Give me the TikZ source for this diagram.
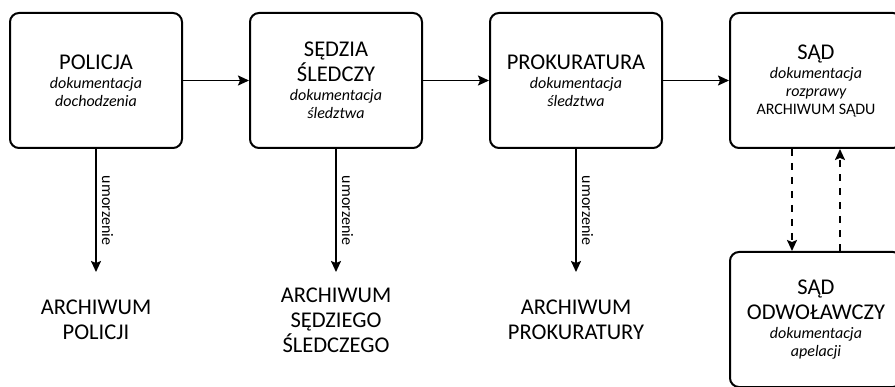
\documentclass[tikz,border=0pt]{standalone}
\usepackage{fontspec}
\setmainfont{Carlito}
\usetikzlibrary{arrows.meta}
\newcommand{\docfont}{\itshape\fontsize{16}{18}\selectfont}
\newcommand{\plainfont}{\upshape\fontsize{16}{18}\selectfont}

\begin{document}
\begin{tikzpicture}
[x=1pt,y=1pt,
  boxDecorate/.style={shape=rectangle,draw,line width=2pt,rounded corners=9pt,
    minimum width=172pt,minimum height=135pt,align=center,
    font=\fontsize{22.5}{25}\selectfont},%
  archiveDecorate/.style={align=center,font=\fontsize{22.5}{25}\selectfont},%
  lineDecorate/.style={-{Stealth[length=11pt,width=10pt,inset=2pt]},line width=1.8pt},%
  dashDecorate/.style={lineDecorate,dash pattern=on 7pt off 7pt},%
  labelDecorate/.style={rotate=-90,anchor=south,inner sep=5pt,
    font=\fontsize{16}{18}\selectfont}]
\useasboundingbox (0,0) rectangle (895,386);
%% institutions
\foreach \nodename/\x/\y/\nodetext in {
  policja/96/305.5/{POLICJA\\[-6pt]\docfont dokumentacja\\[-7pt]\docfont dochodzenia},
  sedzia/336/305.5/{SĘDZIA\\ŚLEDCZY\\[-6pt]\docfont dokumentacja\\[-7pt]\docfont śledztwa},
  prokuratura/576/305.5/{PROKURATURA\\[-6pt]\docfont dokumentacja\\[-7pt]\docfont śledztwa},
  sad/816/305.5/{SĄD\\[-6pt]\docfont dokumentacja\\[-7pt]\docfont rozprawy\\[-7pt]\plainfont ARCHIWUM SĄDU},
  sadOdw/816/66.5/{SĄD\\ODWOŁAWCZY\\[-6pt]\docfont dokumentacja\\[-7pt]\docfont apelacji}}
{
  \node (\nodename) at (\x,\y) [boxDecorate] {\nodetext};
}
%% archives
\foreach \nodename/\x/\nodetext in {
  policjaArch/96/{ARCHIWUM\\POLICJI},
  sedziaArch/336/{ARCHIWUM\\SĘDZIEGO\\ŚLEDCZEGO},
  prokuraturaArch/576/{ARCHIWUM\\PROKURATURY}}
{
  \node (\nodename) at (\x,66) [archiveDecorate] {\nodetext};
  \coordinate (\nodename End) at (\x,114);
}
%% case flow
\path
\foreach \startnode/\endnode in {
  policja/sedzia, sedzia/prokuratura, prokuratura/sad}
{
  (\startnode) edge[lineDecorate] (\endnode)
};
%% discontinuance
\path
\foreach \startnode in {policja, sedzia, prokuratura}
{
  (\startnode) edge[lineDecorate] node[labelDecorate] {umorzenie} (\startnode ArchEnd)
};
%% appeal
\draw[dashDecorate] ([xshift=-24pt]sad.south) -- ([xshift=-24pt]sadOdw.north);
\draw[dashDecorate] ([xshift=24pt]sadOdw.north) -- ([xshift=24pt]sad.south);
\end{tikzpicture}
\end{document}
